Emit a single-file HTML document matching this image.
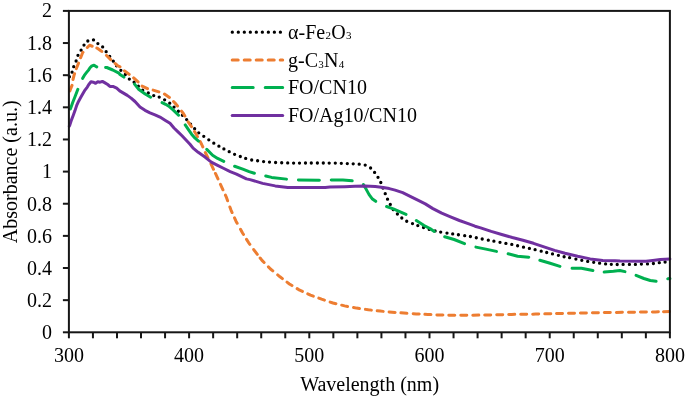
<!DOCTYPE html>
<html><head><meta charset="utf-8"><style>
html,body{margin:0;padding:0;background:#fff;}
svg{display:block;font-family:"Liberation Serif",serif;font-size:20px;will-change:transform;}
</style></head><body>
<svg width="685" height="397" viewBox="0 0 685 397">
<rect width="685" height="397" fill="#fff"/>
<path d="M67.79,76.76a1.65,1.65 0 1,0 3.3,0a1.65,1.65 0 1,0 -3.3,0M70.43,72.13a1.65,1.65 0 1,0 3.3,0a1.65,1.65 0 1,0 -3.3,0M72.08,66.65a1.65,1.65 0 1,0 3.3,0a1.65,1.65 0 1,0 -3.3,0M74.46,61.01a1.65,1.65 0 1,0 3.3,0a1.65,1.65 0 1,0 -3.3,0M76.31,55.32a1.65,1.65 0 1,0 3.3,0a1.65,1.65 0 1,0 -3.3,0M79.45,50.20a1.65,1.65 0 1,0 3.3,0a1.65,1.65 0 1,0 -3.3,0M82.35,45.10a1.65,1.65 0 1,0 3.3,0a1.65,1.65 0 1,0 -3.3,0M86.18,40.99a1.65,1.65 0 1,0 3.3,0a1.65,1.65 0 1,0 -3.3,0M91.85,39.88a1.65,1.65 0 1,0 3.3,0a1.65,1.65 0 1,0 -3.3,0M96.23,43.55a1.65,1.65 0 1,0 3.3,0a1.65,1.65 0 1,0 -3.3,0M101.01,46.97a1.65,1.65 0 1,0 3.3,0a1.65,1.65 0 1,0 -3.3,0M104.50,51.66a1.65,1.65 0 1,0 3.3,0a1.65,1.65 0 1,0 -3.3,0M108.05,56.43a1.65,1.65 0 1,0 3.3,0a1.65,1.65 0 1,0 -3.3,0M111.66,61.15a1.65,1.65 0 1,0 3.3,0a1.65,1.65 0 1,0 -3.3,0M114.90,65.73a1.65,1.65 0 1,0 3.3,0a1.65,1.65 0 1,0 -3.3,0M119.21,70.34a1.65,1.65 0 1,0 3.3,0a1.65,1.65 0 1,0 -3.3,0M123.66,74.51a1.65,1.65 0 1,0 3.3,0a1.65,1.65 0 1,0 -3.3,0M127.69,79.04a1.65,1.65 0 1,0 3.3,0a1.65,1.65 0 1,0 -3.3,0M132.45,82.20a1.65,1.65 0 1,0 3.3,0a1.65,1.65 0 1,0 -3.3,0M136.70,86.25a1.65,1.65 0 1,0 3.3,0a1.65,1.65 0 1,0 -3.3,0M141.05,90.20a1.65,1.65 0 1,0 3.3,0a1.65,1.65 0 1,0 -3.3,0M146.65,93.00a1.65,1.65 0 1,0 3.3,0a1.65,1.65 0 1,0 -3.3,0M152.08,95.54a1.65,1.65 0 1,0 3.3,0a1.65,1.65 0 1,0 -3.3,0M157.55,97.10a1.65,1.65 0 1,0 3.3,0a1.65,1.65 0 1,0 -3.3,0M162.99,99.79a1.65,1.65 0 1,0 3.3,0a1.65,1.65 0 1,0 -3.3,0M168.10,103.17a1.65,1.65 0 1,0 3.3,0a1.65,1.65 0 1,0 -3.3,0M172.39,107.06a1.65,1.65 0 1,0 3.3,0a1.65,1.65 0 1,0 -3.3,0M176.70,111.25a1.65,1.65 0 1,0 3.3,0a1.65,1.65 0 1,0 -3.3,0M180.80,115.25a1.65,1.65 0 1,0 3.3,0a1.65,1.65 0 1,0 -3.3,0M185.00,119.56a1.65,1.65 0 1,0 3.3,0a1.65,1.65 0 1,0 -3.3,0M188.93,124.17a1.65,1.65 0 1,0 3.3,0a1.65,1.65 0 1,0 -3.3,0M193.00,128.65a1.65,1.65 0 1,0 3.3,0a1.65,1.65 0 1,0 -3.3,0M197.10,132.83a1.65,1.65 0 1,0 3.3,0a1.65,1.65 0 1,0 -3.3,0M202.12,136.35a1.65,1.65 0 1,0 3.3,0a1.65,1.65 0 1,0 -3.3,0M207.15,139.80a1.65,1.65 0 1,0 3.3,0a1.65,1.65 0 1,0 -3.3,0M212.15,143.20a1.65,1.65 0 1,0 3.3,0a1.65,1.65 0 1,0 -3.3,0M217.25,146.20a1.65,1.65 0 1,0 3.3,0a1.65,1.65 0 1,0 -3.3,0M222.25,148.90a1.65,1.65 0 1,0 3.3,0a1.65,1.65 0 1,0 -3.3,0M227.55,151.70a1.65,1.65 0 1,0 3.3,0a1.65,1.65 0 1,0 -3.3,0M232.95,154.30a1.65,1.65 0 1,0 3.3,0a1.65,1.65 0 1,0 -3.3,0M238.65,156.50a1.65,1.65 0 1,0 3.3,0a1.65,1.65 0 1,0 -3.3,0M244.05,158.40a1.65,1.65 0 1,0 3.3,0a1.65,1.65 0 1,0 -3.3,0M250.04,160.01a1.65,1.65 0 1,0 3.3,0a1.65,1.65 0 1,0 -3.3,0M255.95,160.77a1.65,1.65 0 1,0 3.3,0a1.65,1.65 0 1,0 -3.3,0M261.95,161.55a1.65,1.65 0 1,0 3.3,0a1.65,1.65 0 1,0 -3.3,0M267.85,162.04a1.65,1.65 0 1,0 3.3,0a1.65,1.65 0 1,0 -3.3,0M273.95,162.52a1.65,1.65 0 1,0 3.3,0a1.65,1.65 0 1,0 -3.3,0M280.05,162.76a1.65,1.65 0 1,0 3.3,0a1.65,1.65 0 1,0 -3.3,0M286.05,162.94a1.65,1.65 0 1,0 3.3,0a1.65,1.65 0 1,0 -3.3,0M291.95,163.10a1.65,1.65 0 1,0 3.3,0a1.65,1.65 0 1,0 -3.3,0M297.85,163.05a1.65,1.65 0 1,0 3.3,0a1.65,1.65 0 1,0 -3.3,0M303.85,163.00a1.65,1.65 0 1,0 3.3,0a1.65,1.65 0 1,0 -3.3,0M309.65,163.00a1.65,1.65 0 1,0 3.3,0a1.65,1.65 0 1,0 -3.3,0M315.75,163.00a1.65,1.65 0 1,0 3.3,0a1.65,1.65 0 1,0 -3.3,0M321.65,163.02a1.65,1.65 0 1,0 3.3,0a1.65,1.65 0 1,0 -3.3,0M327.55,163.06a1.65,1.65 0 1,0 3.3,0a1.65,1.65 0 1,0 -3.3,0M333.65,163.10a1.65,1.65 0 1,0 3.3,0a1.65,1.65 0 1,0 -3.3,0M339.65,163.35a1.65,1.65 0 1,0 3.3,0a1.65,1.65 0 1,0 -3.3,0M345.65,163.60a1.65,1.65 0 1,0 3.3,0a1.65,1.65 0 1,0 -3.3,0M351.55,163.80a1.65,1.65 0 1,0 3.3,0a1.65,1.65 0 1,0 -3.3,0M357.55,164.20a1.65,1.65 0 1,0 3.3,0a1.65,1.65 0 1,0 -3.3,0M363.55,165.10a1.65,1.65 0 1,0 3.3,0a1.65,1.65 0 1,0 -3.3,0M368.95,168.00a1.65,1.65 0 1,0 3.3,0a1.65,1.65 0 1,0 -3.3,0M372.95,172.40a1.65,1.65 0 1,0 3.3,0a1.65,1.65 0 1,0 -3.3,0M376.35,177.30a1.65,1.65 0 1,0 3.3,0a1.65,1.65 0 1,0 -3.3,0M379.15,182.50a1.65,1.65 0 1,0 3.3,0a1.65,1.65 0 1,0 -3.3,0M381.32,188.11a1.65,1.65 0 1,0 3.3,0a1.65,1.65 0 1,0 -3.3,0M383.59,193.69a1.65,1.65 0 1,0 3.3,0a1.65,1.65 0 1,0 -3.3,0M385.89,199.18a1.65,1.65 0 1,0 3.3,0a1.65,1.65 0 1,0 -3.3,0M388.65,204.40a1.65,1.65 0 1,0 3.3,0a1.65,1.65 0 1,0 -3.3,0M391.61,209.64a1.65,1.65 0 1,0 3.3,0a1.65,1.65 0 1,0 -3.3,0M395.75,214.00a1.65,1.65 0 1,0 3.3,0a1.65,1.65 0 1,0 -3.3,0M400.15,218.00a1.65,1.65 0 1,0 3.3,0a1.65,1.65 0 1,0 -3.3,0M405.08,221.25a1.65,1.65 0 1,0 3.3,0a1.65,1.65 0 1,0 -3.3,0M410.85,223.60a1.65,1.65 0 1,0 3.3,0a1.65,1.65 0 1,0 -3.3,0M416.15,225.60a1.65,1.65 0 1,0 3.3,0a1.65,1.65 0 1,0 -3.3,0M421.88,227.51a1.65,1.65 0 1,0 3.3,0a1.65,1.65 0 1,0 -3.3,0M427.59,229.45a1.65,1.65 0 1,0 3.3,0a1.65,1.65 0 1,0 -3.3,0M433.45,230.89a1.65,1.65 0 1,0 3.3,0a1.65,1.65 0 1,0 -3.3,0M439.05,232.08a1.65,1.65 0 1,0 3.3,0a1.65,1.65 0 1,0 -3.3,0M445.35,233.10a1.65,1.65 0 1,0 3.3,0a1.65,1.65 0 1,0 -3.3,0M451.05,233.93a1.65,1.65 0 1,0 3.3,0a1.65,1.65 0 1,0 -3.3,0M456.75,234.75a1.65,1.65 0 1,0 3.3,0a1.65,1.65 0 1,0 -3.3,0M463.05,235.70a1.65,1.65 0 1,0 3.3,0a1.65,1.65 0 1,0 -3.3,0M468.75,236.49a1.65,1.65 0 1,0 3.3,0a1.65,1.65 0 1,0 -3.3,0M474.65,237.75a1.65,1.65 0 1,0 3.3,0a1.65,1.65 0 1,0 -3.3,0M480.55,238.98a1.65,1.65 0 1,0 3.3,0a1.65,1.65 0 1,0 -3.3,0M486.65,240.22a1.65,1.65 0 1,0 3.3,0a1.65,1.65 0 1,0 -3.3,0M492.25,241.22a1.65,1.65 0 1,0 3.3,0a1.65,1.65 0 1,0 -3.3,0M498.35,242.30a1.65,1.65 0 1,0 3.3,0a1.65,1.65 0 1,0 -3.3,0M504.25,243.36a1.65,1.65 0 1,0 3.3,0a1.65,1.65 0 1,0 -3.3,0M510.15,244.41a1.65,1.65 0 1,0 3.3,0a1.65,1.65 0 1,0 -3.3,0M515.95,245.75a1.65,1.65 0 1,0 3.3,0a1.65,1.65 0 1,0 -3.3,0M521.85,247.13a1.65,1.65 0 1,0 3.3,0a1.65,1.65 0 1,0 -3.3,0M527.75,248.43a1.65,1.65 0 1,0 3.3,0a1.65,1.65 0 1,0 -3.3,0M533.45,249.68a1.65,1.65 0 1,0 3.3,0a1.65,1.65 0 1,0 -3.3,0M539.55,251.17a1.65,1.65 0 1,0 3.3,0a1.65,1.65 0 1,0 -3.3,0M545.05,252.51a1.65,1.65 0 1,0 3.3,0a1.65,1.65 0 1,0 -3.3,0M550.85,253.88a1.65,1.65 0 1,0 3.3,0a1.65,1.65 0 1,0 -3.3,0M556.75,255.28a1.65,1.65 0 1,0 3.3,0a1.65,1.65 0 1,0 -3.3,0M562.45,256.77a1.65,1.65 0 1,0 3.3,0a1.65,1.65 0 1,0 -3.3,0M567.95,257.67a1.65,1.65 0 1,0 3.3,0a1.65,1.65 0 1,0 -3.3,0M574.25,259.06a1.65,1.65 0 1,0 3.3,0a1.65,1.65 0 1,0 -3.3,0M580.15,260.34a1.65,1.65 0 1,0 3.3,0a1.65,1.65 0 1,0 -3.3,0M586.05,261.40a1.65,1.65 0 1,0 3.3,0a1.65,1.65 0 1,0 -3.3,0M592.05,262.31a1.65,1.65 0 1,0 3.3,0a1.65,1.65 0 1,0 -3.3,0M597.95,263.19a1.65,1.65 0 1,0 3.3,0a1.65,1.65 0 1,0 -3.3,0M603.95,263.92a1.65,1.65 0 1,0 3.3,0a1.65,1.65 0 1,0 -3.3,0M609.65,264.29a1.65,1.65 0 1,0 3.3,0a1.65,1.65 0 1,0 -3.3,0M615.55,264.50a1.65,1.65 0 1,0 3.3,0a1.65,1.65 0 1,0 -3.3,0M621.45,264.47a1.65,1.65 0 1,0 3.3,0a1.65,1.65 0 1,0 -3.3,0M627.75,264.43a1.65,1.65 0 1,0 3.3,0a1.65,1.65 0 1,0 -3.3,0M633.75,264.40a1.65,1.65 0 1,0 3.3,0a1.65,1.65 0 1,0 -3.3,0M639.75,264.10a1.65,1.65 0 1,0 3.3,0a1.65,1.65 0 1,0 -3.3,0M645.85,263.90a1.65,1.65 0 1,0 3.3,0a1.65,1.65 0 1,0 -3.3,0M651.75,263.50a1.65,1.65 0 1,0 3.3,0a1.65,1.65 0 1,0 -3.3,0M657.65,262.70a1.65,1.65 0 1,0 3.3,0a1.65,1.65 0 1,0 -3.3,0M663.45,262.00a1.65,1.65 0 1,0 3.3,0a1.65,1.65 0 1,0 -3.3,0" fill="#000"/>
<path d="M69.87,90.96 L70.70,88.60 L72.03,85.36M73.03,79.46 L74.10,75.10 L74.58,73.67M76.27,68.70 L78.54,63.14M80.64,57.75 L82.60,52.70 L82.99,52.27M87.33,47.47 L89.60,45.20 L92.18,46.25M96.84,48.04 L97.00,48.10 L101.50,51.20 L101.78,51.44M106.45,55.41 L106.80,55.70 L110.72,59.62M115.06,63.47 L117.40,65.50 L119.99,66.80M124.43,70.78 L125.00,71.30 L129.00,74.20 L129.23,74.38M133.64,77.94 L138.09,81.96M142.09,86.12 L147.53,88.64M153.13,90.13 L158.88,91.85M164.44,94.03 L169.41,97.40M173.54,101.51 L176.00,104.10 L177.51,106.00M181.52,111.08 L183.20,113.20 L184.86,116.05M188.16,121.72 L188.90,123.00 L191.47,126.72M194.49,131.41 L196.20,134.20 L197.48,136.60M200.13,141.56 L201.70,144.50 L202.79,146.94M205.30,152.50 L207.98,157.86M210.96,163.82 L211.10,164.10 L213.49,169.26M215.45,173.48 L217.97,178.93M220.46,184.33 L222.97,189.78M225.43,195.13 L226.20,196.80 L227.61,200.72M229.87,206.96 L231.00,210.10 L232.10,212.53M234.52,217.89 L236.10,221.40 L237.15,223.28M240.51,229.31 L242.40,232.70 L243.52,234.50M246.55,239.36 L248.70,242.80 L249.86,244.36M253.70,249.53 L256.20,252.90 L257.31,254.33M260.16,258.03 L262.00,260.40 L264.11,262.53M268.39,266.87 L270.50,269.00 L272.82,270.90M277.68,274.90 L280.00,276.80 L282.38,278.62M287.02,282.18 L289.40,284.00 L291.97,285.55M297.13,288.65 L299.70,290.20 L302.43,291.44M307.77,293.86 L310.50,295.10 L313.31,296.14M318.79,298.16 L321.60,299.20 L324.45,300.15M330.15,302.05 L333.00,303.00 L335.91,303.73M341.69,305.17 L344.60,305.90 L347.55,306.45M353.55,307.55 L356.50,308.10 L359.47,308.52M365.43,309.38 L368.40,309.80 L371.38,310.13M377.22,310.77 L380.20,311.10 L383.19,311.38M389.11,311.92 L392.10,312.20 L395.09,312.43M400.91,312.87 L403.90,313.10 L406.89,313.29M413.21,313.71 L416.20,313.90 L419.20,314.05M424.90,314.35 L427.90,314.50 L430.90,314.62M436.90,314.88 L439.90,315.00 L442.90,315.05M448.80,315.15 L451.80,315.20 L454.80,315.22M460.80,315.28 L463.80,315.30 L466.80,315.26M472.80,315.19 L478.80,315.11M484.70,315.04 L487.70,315.00 L490.70,314.93M496.70,314.77 L502.70,314.63M508.70,314.47 L511.70,314.40 L514.70,314.36M520.70,314.29 L526.70,314.21M532.70,314.14 L535.70,314.10 L538.70,314.02M544.80,313.87 L550.80,313.72M556.50,313.58 L559.50,313.50 L562.50,313.44M568.50,313.31 L574.50,313.19M580.40,313.06 L583.40,313.00 L586.40,312.94M592.40,312.81 L598.40,312.69M604.30,312.56 L607.30,312.50 L610.30,312.46M616.40,312.39 L622.40,312.31M628.50,312.24 L631.50,312.20 L634.50,312.16M640.40,312.09 L646.40,312.01M652.40,311.94 L655.40,311.90 L658.40,311.84M663.50,311.73 L669.50,311.61" fill="none" stroke="#ED7D31" stroke-width="3" stroke-linecap="round" stroke-linejoin="round"/>
<path d="M70.39,108.92 L70.40,108.90 L72.70,102.50 L75.00,96.70 L77.86,89.29M82.67,78.32 L84.30,75.40 L86.60,72.40 L88.50,70.10 L90.00,67.80 L91.90,65.90 L94.10,65.20 L96.40,66.70 L96.75,66.89M105.60,67.46 L106.80,67.50 L112.80,70.00 L118.90,73.10 L120.00,74.50 L123.89,77.09M134.55,84.12 L138.90,89.60 L145.20,94.00 L150.61,97.26M162.06,102.57 L165.60,104.30 L169.60,106.80 L173.10,109.90 L176.20,112.90 L178.57,115.27M185.23,124.94 L188.10,129.10 L191.60,134.20 L195.10,138.20 L198.48,141.09M206.80,149.40 L212.60,155.20 L217.60,158.40 L223.75,161.43M234.62,166.22 L242.80,169.10 L249.10,171.60 L254.38,173.30M265.78,175.97 L271.60,177.40 L286.51,179.12M298.40,180.01 L319.40,180.19M331.23,180.10 L342.90,180.00 L352.20,180.77M363.42,184.64 L366.10,189.10 L369.10,194.60 L372.10,198.70 L375.69,201.33M386.59,206.53 L393.30,208.80 L406.02,214.43M416.33,220.58 L424.10,225.60 L430.00,228.50 L434.28,231.41M444.72,236.74 L454.10,239.50 L464.51,243.68M475.92,247.12 L485.90,249.10 L496.48,251.37M508.12,253.76 L517.60,256.20 L528.77,257.18M539.85,260.30 L549.30,263.00 L559.95,266.39M572.08,268.18 L572.20,268.20 L581.40,268.30 L592.89,270.42M604.16,272.04 L613.40,271.30 L619.80,270.50 L624.96,271.64M636.08,275.35 L643.90,278.50 L650.30,280.50 L656.10,281.34M667.79,278.83 L667.90,278.80 L669.90,278.50" fill="none" stroke="#00B050" stroke-width="3" stroke-linecap="round" stroke-linejoin="round"/>
<path d="M69.3,126.2 L69.8,125.1 L71.5,119.9 L73.3,115.2 L75.0,110.6 L76.7,105.4 L78.5,101.4 L80.8,97.3 L83.1,93.3 L85.0,90.1 L87.3,87.1 L88.8,84.5 L91.0,81.8 L93.3,82.2 L95.6,83.3 L97.8,81.8 L100.1,82.2 L102.4,81.4 L104.6,82.6 L107.7,84.5 L109.9,86.4 L112.9,86.4 L116.7,88.2 L119.7,90.9 L123.5,93.1 L127.3,95.4 L131.1,98.1 L135.0,101.5 L140.0,107.0 L145.0,110.3 L150.0,112.8 L155.0,114.8 L160.0,117.1 L165.0,120.2 L170.0,123.3 L174.0,128.0 L178.0,131.9 L182.0,135.8 L186.0,140.0 L190.0,144.2 L193.1,148.1 L198.2,152.3 L205.0,157.1 L211.3,162.2 L217.6,165.3 L223.9,168.5 L230.2,171.6 L236.5,174.1 L246.4,178.9 L250.0,179.6 L262.6,183.4 L275.2,185.9 L287.8,187.4 L300.0,187.6 L325.2,187.4 L330.0,187.1 L345.0,186.7 L355.0,186.3 L365.1,186.1 L375.2,186.6 L383.2,187.6 L389.3,188.6 L395.1,190.1 L402.7,192.6 L410.2,196.4 L417.8,200.2 L425.3,203.9 L432.9,208.6 L441.7,213.2 L450.5,216.9 L459.4,220.5 L468.2,223.6 L475.0,226.2 L480.6,227.9 L491.2,231.4 L501.7,234.5 L512.3,237.5 L522.9,240.2 L533.5,243.3 L544.0,246.9 L554.6,250.4 L565.0,253.3 L577.6,256.3 L590.2,258.9 L602.8,260.4 L615.0,260.8 L620.0,261.0 L640.0,261.3 L646.0,261.2 L652.7,260.5 L660.3,259.6 L669.9,259.0" fill="none" stroke="#7030A0" stroke-width="3" stroke-linecap="round" stroke-linejoin="round"/>
<rect x="68.9" y="10.9" width="601.0" height="321.40000000000003" fill="none" stroke="#161616" stroke-width="2"/>
<line x1="62.9" y1="332.30" x2="68.9" y2="332.30" stroke="#161616" stroke-width="2"/>
<text x="52.1" y="339.10" text-anchor="end">0</text>
<line x1="62.9" y1="300.16" x2="68.9" y2="300.16" stroke="#161616" stroke-width="2"/>
<text x="52.1" y="306.96" text-anchor="end">0.2</text>
<line x1="62.9" y1="268.02" x2="68.9" y2="268.02" stroke="#161616" stroke-width="2"/>
<text x="52.1" y="274.82" text-anchor="end">0.4</text>
<line x1="62.9" y1="235.88" x2="68.9" y2="235.88" stroke="#161616" stroke-width="2"/>
<text x="52.1" y="242.68" text-anchor="end">0.6</text>
<line x1="62.9" y1="203.74" x2="68.9" y2="203.74" stroke="#161616" stroke-width="2"/>
<text x="52.1" y="210.54" text-anchor="end">0.8</text>
<line x1="62.9" y1="171.60" x2="68.9" y2="171.60" stroke="#161616" stroke-width="2"/>
<text x="52.1" y="178.40" text-anchor="end">1</text>
<line x1="62.9" y1="139.46" x2="68.9" y2="139.46" stroke="#161616" stroke-width="2"/>
<text x="52.1" y="146.26" text-anchor="end">1.2</text>
<line x1="62.9" y1="107.32" x2="68.9" y2="107.32" stroke="#161616" stroke-width="2"/>
<text x="52.1" y="114.12" text-anchor="end">1.4</text>
<line x1="62.9" y1="75.18" x2="68.9" y2="75.18" stroke="#161616" stroke-width="2"/>
<text x="52.1" y="81.98" text-anchor="end">1.6</text>
<line x1="62.9" y1="43.04" x2="68.9" y2="43.04" stroke="#161616" stroke-width="2"/>
<text x="52.1" y="49.84" text-anchor="end">1.8</text>
<line x1="62.9" y1="10.90" x2="68.9" y2="10.90" stroke="#161616" stroke-width="2"/>
<text x="52.1" y="16.90" text-anchor="end">2</text>
<line x1="68.90" y1="332.3" x2="68.90" y2="338.3" stroke="#161616" stroke-width="2"/>
<line x1="92.94" y1="332.3" x2="92.94" y2="338.3" stroke="#161616" stroke-width="2"/>
<line x1="116.98" y1="332.3" x2="116.98" y2="338.3" stroke="#161616" stroke-width="2"/>
<line x1="141.02" y1="332.3" x2="141.02" y2="338.3" stroke="#161616" stroke-width="2"/>
<line x1="165.06" y1="332.3" x2="165.06" y2="338.3" stroke="#161616" stroke-width="2"/>
<line x1="189.10" y1="332.3" x2="189.10" y2="338.3" stroke="#161616" stroke-width="2"/>
<line x1="213.14" y1="332.3" x2="213.14" y2="338.3" stroke="#161616" stroke-width="2"/>
<line x1="237.18" y1="332.3" x2="237.18" y2="338.3" stroke="#161616" stroke-width="2"/>
<line x1="261.22" y1="332.3" x2="261.22" y2="338.3" stroke="#161616" stroke-width="2"/>
<line x1="285.26" y1="332.3" x2="285.26" y2="338.3" stroke="#161616" stroke-width="2"/>
<line x1="309.30" y1="332.3" x2="309.30" y2="338.3" stroke="#161616" stroke-width="2"/>
<line x1="333.34" y1="332.3" x2="333.34" y2="338.3" stroke="#161616" stroke-width="2"/>
<line x1="357.38" y1="332.3" x2="357.38" y2="338.3" stroke="#161616" stroke-width="2"/>
<line x1="381.42" y1="332.3" x2="381.42" y2="338.3" stroke="#161616" stroke-width="2"/>
<line x1="405.46" y1="332.3" x2="405.46" y2="338.3" stroke="#161616" stroke-width="2"/>
<line x1="429.50" y1="332.3" x2="429.50" y2="338.3" stroke="#161616" stroke-width="2"/>
<line x1="453.54" y1="332.3" x2="453.54" y2="338.3" stroke="#161616" stroke-width="2"/>
<line x1="477.58" y1="332.3" x2="477.58" y2="338.3" stroke="#161616" stroke-width="2"/>
<line x1="501.62" y1="332.3" x2="501.62" y2="338.3" stroke="#161616" stroke-width="2"/>
<line x1="525.66" y1="332.3" x2="525.66" y2="338.3" stroke="#161616" stroke-width="2"/>
<line x1="549.70" y1="332.3" x2="549.70" y2="338.3" stroke="#161616" stroke-width="2"/>
<line x1="573.74" y1="332.3" x2="573.74" y2="338.3" stroke="#161616" stroke-width="2"/>
<line x1="597.78" y1="332.3" x2="597.78" y2="338.3" stroke="#161616" stroke-width="2"/>
<line x1="621.82" y1="332.3" x2="621.82" y2="338.3" stroke="#161616" stroke-width="2"/>
<line x1="645.86" y1="332.3" x2="645.86" y2="338.3" stroke="#161616" stroke-width="2"/>
<line x1="669.90" y1="332.3" x2="669.90" y2="338.3" stroke="#161616" stroke-width="2"/>
<text x="68.90" y="362" text-anchor="middle">300</text>
<text x="189.10" y="362" text-anchor="middle">400</text>
<text x="309.30" y="362" text-anchor="middle">500</text>
<text x="429.50" y="362" text-anchor="middle">600</text>
<text x="549.70" y="362" text-anchor="middle">700</text>
<text x="669.90" y="362" text-anchor="middle">800</text>
<text x="369.6" y="390.8" text-anchor="middle">Wavelength (nm)</text>
<text transform="translate(16.6,171.8) rotate(-90)" text-anchor="middle">Absorbance (a.u.)</text>
<path d="M230.65,32.2a1.65,1.65 0 1,0 3.3,0a1.65,1.65 0 1,0 -3.3,0M236.66,32.2a1.65,1.65 0 1,0 3.3,0a1.65,1.65 0 1,0 -3.3,0M242.67,32.2a1.65,1.65 0 1,0 3.3,0a1.65,1.65 0 1,0 -3.3,0M248.68,32.2a1.65,1.65 0 1,0 3.3,0a1.65,1.65 0 1,0 -3.3,0M254.69,32.2a1.65,1.65 0 1,0 3.3,0a1.65,1.65 0 1,0 -3.3,0M260.70,32.2a1.65,1.65 0 1,0 3.3,0a1.65,1.65 0 1,0 -3.3,0M266.71,32.2a1.65,1.65 0 1,0 3.3,0a1.65,1.65 0 1,0 -3.3,0M272.72,32.2a1.65,1.65 0 1,0 3.3,0a1.65,1.65 0 1,0 -3.3,0M278.73,32.2a1.65,1.65 0 1,0 3.3,0a1.65,1.65 0 1,0 -3.3,0" fill="#000"/>
<text x="288" y="38.9">α-Fe<tspan font-size="11" dy="0.5" dx="0.3">2</tspan><tspan dy="-0.5" dx="0.3">O</tspan><tspan font-size="11" dy="0.5" dx="0.3">3</tspan></text>
<line x1="232.2" y1="59.9" x2="282.7" y2="59.9" stroke="#ED7D31" stroke-width="3" stroke-linecap="round" stroke-dasharray="6 6"/>
<text x="288" y="67.2">g-C<tspan font-size="11" dy="0.5" dx="0.3">3</tspan><tspan dy="-0.5" dx="0.3">N</tspan><tspan font-size="11" dy="0.5" dx="0.3">4</tspan></text>
<line x1="232.2" y1="87.6" x2="282.7" y2="87.6" stroke="#00B050" stroke-width="3" stroke-linecap="round" stroke-dasharray="21 12"/>
<text x="288" y="94.3">FO/CN10</text>
<line x1="232.2" y1="115.4" x2="282.7" y2="115.4" stroke="#7030A0" stroke-width="3" stroke-linecap="round"/>
<text x="288" y="122.1">FO/Ag10/CN10</text>
</svg>
</body></html>
